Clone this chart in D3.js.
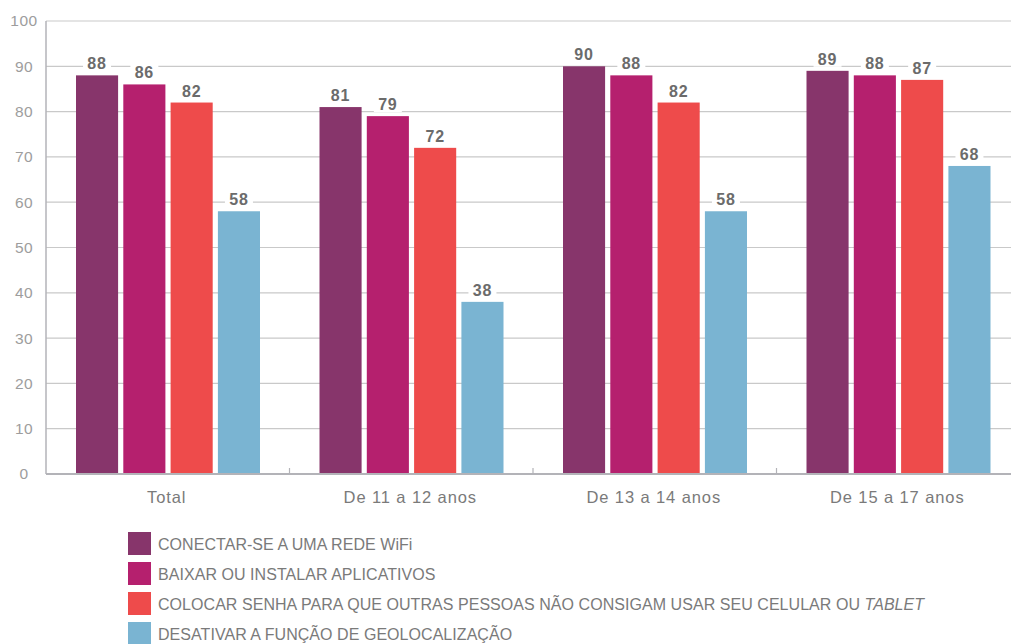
<!DOCTYPE html>
<html>
<head>
<meta charset="utf-8">
<script src="https://cdn.jsdelivr.net/npm/d3@7"></script>
<style>
    body { margin: 0; background: #fff; }
    svg { display: block; font-family: "Liberation Sans", Arial, sans-serif; }
</style>
</head>
<body>
<div id="chart"></div>
<script>
var categories = ["Total", "De 11 a 12 anos", "De 13 a 14 anos", "De 15 a 17 anos"];
var seriesNames = [
    "CONECTAR-SE A UMA REDE WiFi",
    "BAIXAR OU INSTALAR APLICATIVOS",
    "COLOCAR SENHA PARA QUE OUTRAS PESSOAS NÃO CONSIGAM USAR SEU CELULAR OU ",
    "DESATIVAR A FUNÇÃO DE GEOLOCALIZAÇÃO"
];
var wifi = [88, 81, 90, 89];
var apps = [86, 79, 88, 88];
var senha = [82, 72, 82, 87];
var geo = [58, 38, 58, 68];
var yTicks = [0, 10, 20, 30, 40, 50, 60, 70, 80, 90, 100];
var colors = ["#87356b", "#b5206e", "#ee4b4b", "#7ab4d2"];

var width = 1011;
var height = 644;
var values = [wifi, apps, senha, geo];

var svg = d3.select("#chart").append("svg")
    .attr("width", width)
    .attr("height", height);

var x = d3.scaleBand()
    .domain(categories)
    .range([46, 1020]);

var xInner = d3.scaleBand()
    .domain(d3.range(4))
    .range([30, 214])
    .paddingInner(0.11);

var y = d3.scaleLinear()
    .domain([0, 100])
    .range([474, 21]);

// gridlines
svg.append("g").selectAll("line")
    .data(yTicks.slice(1))
    .enter().append("line")
    .attr("x1", 46)
    .attr("x2", width)
    .attr("y1", function (d) { return y(d); })
    .attr("y2", function (d) { return y(d); })
    .attr("stroke", "#c9c9c9")
    .attr("stroke-width", 1.2);

// y labels
svg.append("g").selectAll("text")
    .data(yTicks)
    .enter().append("text")
    .attr("x", 24)
    .attr("y", function (d) { return y(d); })
    .attr("dy", "0.35em")
    .attr("text-anchor", "middle")
    .attr("fill", "#9d9d9d")
    .attr("font-size", 15.5)
    .attr("letter-spacing", 0.5)
    .text(String);

// bars
var groups = svg.append("g").selectAll("g")
    .data(categories)
    .enter().append("g")
    .attr("transform", function (d) { return "translate(" + x(d) + ",0)"; });

groups.selectAll("rect")
    .data(function (d, i) {
        return values.map(function (s, j) { return {s: j, v: s[i]}; });
    })
    .enter().append("rect")
    .attr("x", function (d) { return xInner(d.s); })
    .attr("width", xInner.bandwidth())
    .attr("y", function (d) { return y(d.v); })
    .attr("height", function (d) { return y(0) - y(d.v); })
    .attr("fill", function (d) { return colors[d.s]; });

// value labels with white backing
var labels = groups.selectAll("g.lbl")
    .data(function (d, i) {
        return values.map(function (s, j) { return {s: j, v: s[i]}; });
    })
    .enter().append("g")
    .attr("class", "lbl");

labels.append("rect")
    .attr("x", function (d) { return xInner(d.s) + xInner.bandwidth() / 2 - 14; })
    .attr("y", function (d) { return y(d.v) - 20; })
    .attr("width", 28)
    .attr("height", 16)
    .attr("fill", "#fff");

labels.append("text")
    .attr("x", function (d) { return xInner(d.s) + xInner.bandwidth() / 2; })
    .attr("y", function (d) { return y(d.v) - 6; })
    .attr("text-anchor", "middle")
    .attr("fill", "#6b6b6b")
    .attr("font-size", 16)
    .attr("font-weight", "bold")
    .attr("letter-spacing", 0.8)
    .text(function (d) { return d.v; });

// axes lines
svg.append("line")
    .attr("x1", 46).attr("x2", width)
    .attr("y1", y(0)).attr("y2", y(0))
    .attr("stroke", "#b3b3b8").attr("stroke-width", 2);

svg.append("line")
    .attr("x1", 46).attr("x2", 46)
    .attr("y1", y(100)).attr("y2", y(0))
    .attr("stroke", "#b3b3b8").attr("stroke-width", 1.5);

svg.append("g").selectAll("line")
    .data(categories.slice(1))
    .enter().append("line")
    .attr("x1", function (d) { return x(d); })
    .attr("x2", function (d) { return x(d); })
    .attr("y1", y(0) - 6)
    .attr("y2", y(0))
    .attr("stroke", "#b3b3b8").attr("stroke-width", 1.2);

// category labels
svg.append("g").selectAll("text")
    .data(categories)
    .enter().append("text")
    .attr("x", function (d) { return x(d) + x.bandwidth() / 2 - 1; })
    .attr("y", 503)
    .attr("text-anchor", "middle")
    .attr("fill", "#7a7a7a")
    .attr("font-size", 16.5)
    .attr("letter-spacing", 0.9)
    .text(String);

// legend
var legend = svg.append("g").selectAll("g")
    .data(seriesNames)
    .enter().append("g")
    .attr("transform", function (d, i) { return "translate(128," + (532 + i * 30) + ")"; });

legend.append("rect")
    .attr("width", 23)
    .attr("height", 23)
    .attr("fill", function (d, i) { return colors[i]; });

var legendText = legend.append("text")
    .attr("x", 30)
    .attr("y", 18)
    .attr("fill", "#7a7a7a")
    .attr("font-size", 16)
    .attr("letter-spacing", 0.05)
    .text(String);

legendText.filter(function (d, i) { return i == 2; })
    .append("tspan")
    .attr("font-style", "italic")
    .text("TABLET");
</script>
</body>
</html>
